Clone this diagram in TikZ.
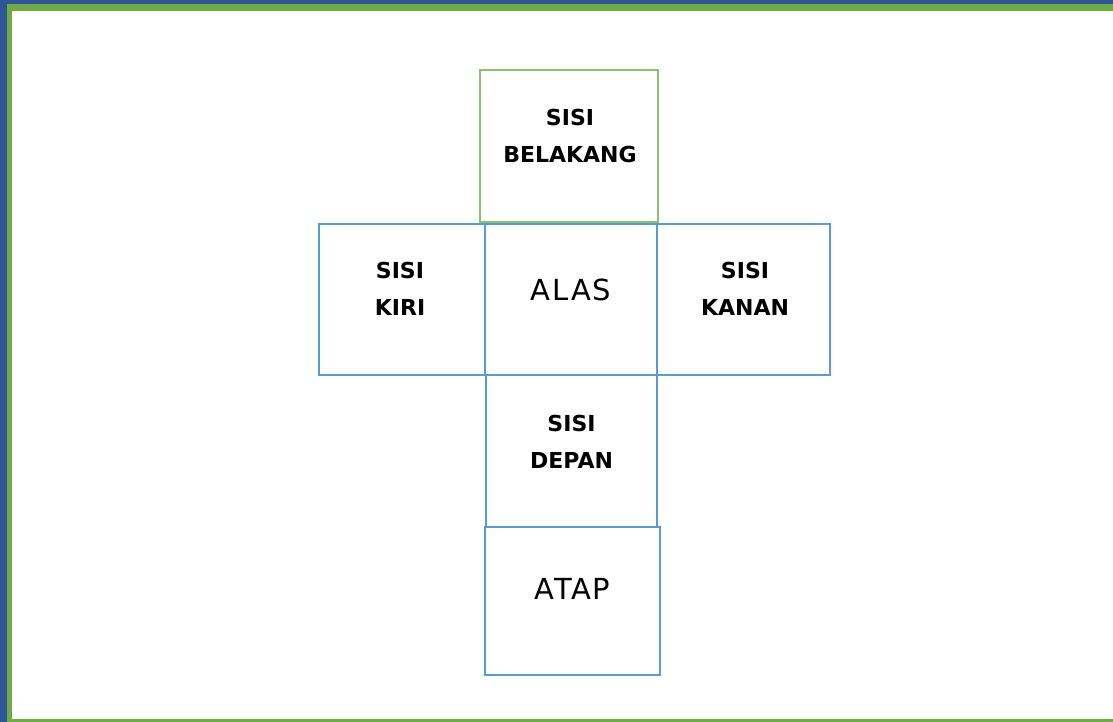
\documentclass[tikz,border=0pt]{standalone}
\usepackage{fontspec}
\usepackage{tikz}
\usetikzlibrary{calc}

\newfontfamily\sidefont{DejaVu Sans}
\newfontfamily\basefont{DejaVu Sans}[LetterSpace=6]

\definecolor{frameblue}{HTML}{2F5597}
\definecolor{framegreen}{HTML}{6FAA46}
\definecolor{netblue}{HTML}{5B9BD5}
\definecolor{netgreen}{HTML}{8CC06A}

\tikzset{
  face/.style={draw=netblue,line width=2pt,inner sep=0pt},
  backface/.style={draw=netgreen,line width=1.6pt,inner sep=0pt},
  sidetext/.style={align=center,text=black,font=\sidefont\bfseries\fontsize{22}{37}\selectfont},
  maintext/.style={text=black,font=\basefont\fontsize{29}{34}\selectfont}
}

\begin{document}
\begin{tikzpicture}[x=1pt,y=-1pt]
	\useasboundingbox (0,0) rectangle (1113,722);
	\fill[white] (0,0) rectangle (1113,722);

	% frame
	\fill[frameblue] (0,0) rectangle (1113,4);
	\fill[frameblue] (0,0) rectangle (7,722);
	\fill[framegreen] (7,4) rectangle (1113,11);
	\fill[framegreen] (7,11) rectangle (12,722);
	\fill[framegreen] (7,719) rectangle (1113,722);

	\coordinate (B) at (569,146);
	\coordinate (KI) at (402,299.5);
	\coordinate (AL) at (571,299.5);
	\coordinate (KA) at (743.5,299.5);
	\coordinate (D) at (571.5,451);
	\coordinate (AT) at (572.5,601);

	\node[backface,minimum width=178pt,minimum height=152pt] (belakang) at (B) {};
	\node[face,minimum width=166pt,minimum height=151pt] (kiri) at (KI) {};
	\node[face,minimum width=172pt,minimum height=151pt] (alas) at (AL) {};
	\node[face,minimum width=173pt,minimum height=151pt] (kanan) at (KA) {};
	\node[face,minimum width=171pt,minimum height=152pt] (depan) at (D) {};
	\node[face,minimum width=175pt,minimum height=148pt] (atap) at (AT) {};

	% texts sit a bit above the middle
	\node[sidetext] (belakangtext) at ($(belakang.center)+(1,-10)$) {SISI\\BELAKANG};
	\node[sidetext] (kiritext) at ($(kiri.center)+(-2,-11)$) {SISI\\KIRI};
	\node[maintext] (alastext) at ($(alas.center)+(0,-10)$) {ALAS};
	\node[sidetext] (kanantext) at ($(kanan.center)+(1.5,-11)$) {SISI\\KANAN};
	\node[sidetext] (depantext) at ($(depan.center)+(0,-9)$) {SISI\\DEPAN};
	\node[maintext] (ataptext) at ($(atap.center)+(0,-12)$) {ATAP};
\end{tikzpicture}
\end{document}
